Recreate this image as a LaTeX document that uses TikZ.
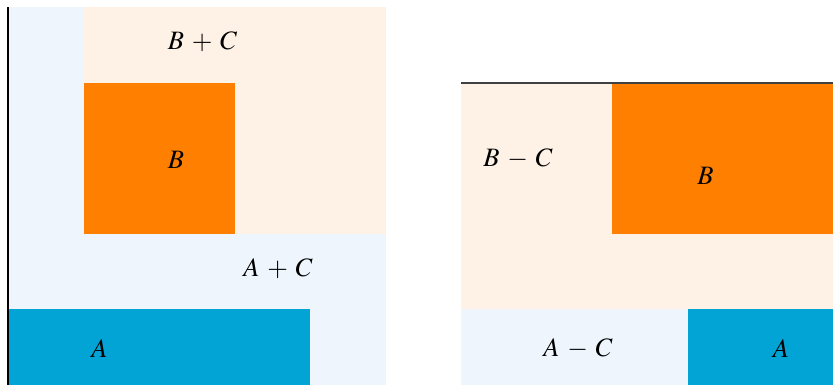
\documentclass[tikz,border=0pt]{standalone}
\usepackage{mathptmx}
\medmuskip=5.2mu plus 2mu minus 4mu
\definecolor{lblue}{RGB}{238,245,253}
\definecolor{lorange}{RGB}{254,241,229}
\definecolor{dorange}{RGB}{255,128,0}
\definecolor{dcyan}{RGB}{2,163,213}
\begin{document}
\begin{tikzpicture}[x=1cm,y=1cm,
  lbl/.style={inner sep=0pt, font=\normalsize}]
\useasboundingbox (-0.106,0) rectangle (10.927,5.099);
\clip (-0.106,0) rectangle (10.927,5.099);
% left panel
\fill[lblue] (0,0) rectangle (5,5);
\fill[lorange] (1,2) rectangle (5,5);
\fill[dorange] (1,2) rectangle (3,4);
\fill[dcyan] (0,0) rectangle (4,1);
\draw[line width=0.5pt] (0,0) -- (0,5);
% right panel
\fill[lorange] (6,1) rectangle (11.5,4);
\fill[dorange] (8,2) rectangle (11.5,4);
\fill[lblue] (6,0) rectangle (9,1);
\fill[dcyan] (9,0) rectangle (11.5,1);
\draw[line width=0.5pt, black!75] (6,4) -- (11.5,4);
% labels
\node[lbl] (bpc) at (2.576,4.543) {$B+C$};
\node[lbl] (b1) at (2.225,2.98) {$B$};
\node[lbl] (apc) at (3.576,1.536) {$A+C$};
\node[lbl] (a1) at (1.212,0.477) {$A$};
\node[lbl] (bmc) at (6.755,2.993) {$B-C$};
\node[lbl] (b2) at (9.238,2.768) {$B$};
\node[lbl] (amc) at (7.55,0.477) {$A-C$};
\node[lbl] (a2) at (10.238,0.477) {$A$};
\end{tikzpicture}
\end{document}
